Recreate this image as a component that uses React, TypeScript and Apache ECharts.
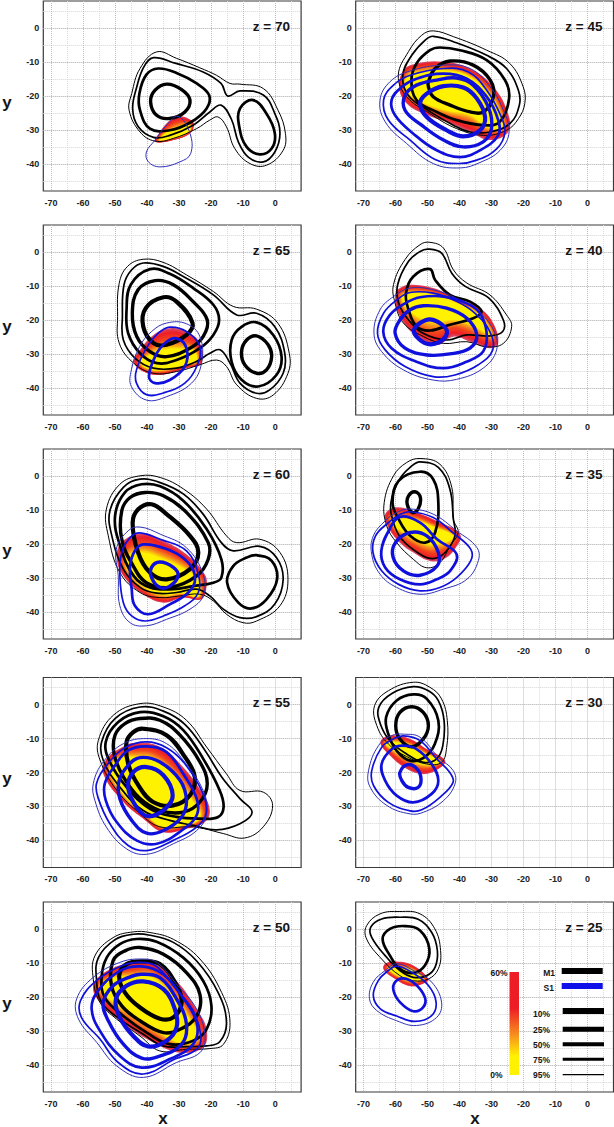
import React, { useEffect, useRef } from "react";
import * as echarts from "echarts";

type P = number[][];

const xLabels = [-70, -60, -50, -40, -30, -20, -10, 0];
const yLabels = [-40, -30, -20, -10, 0];
const xGrid = [-70, -65, -60, -55, -50, -45, -40, -35, -30, -25, -20, -15, -10, -5, 0, 5];
const yGrid = [-45, -40, -35, -30, -25, -20, -15, -10, -5, 0, 5];
const legendLevels = ["10%", "25%", "50%", "75%", "95%"];
const legendSets = ["M1", "S1"];
const scaleEnds = ["60%", "0%"];

// z = 70
const z70f: P = [[-30.8,-26],[-27.2,-26.6],[-25.4,-28.1],[-26.6,-31],[-31.8,-33],[-37.5,-33.5],[-36,-30.6],[-33.4,-27.6]];
const z70c: P = [[-30.8,-29.6],[-27.6,-28.6],[-26.4,-29],[-27,-30.5],[-31.8,-32.4],[-36,-33],[-35,-31.6],[-33,-30.4]];
const z70m95: P = [[-37,-7],[-30.8,-8.9],[-23.5,-11.7],[-18.3,-13.9],[-14.1,-16.3],[-11,-16.5],[-3.7,-17.8],[0.9,-24.2],[3.2,-31],[2.5,-36],[-2.7,-40.4],[-7.9,-39.9],[-12.6,-35.5],[-15.2,-29.1],[-17.8,-26.2],[-20.4,-27.1],[-24.5,-29.6],[-31.8,-32.5],[-37.5,-33.3],[-42.2,-30.6],[-45.6,-24.2],[-44.8,-19.3],[-42.2,-11.9]];
const z70m75: P = [[-38,-8.7],[-31,-10.4],[-22.5,-12.9],[-16.9,-16.3],[-14.8,-20],[-11,-18.5],[-3.7,-19.7],[-0.1,-25.2],[1.5,-31],[-0.1,-36.5],[-3.7,-39.4],[-8.4,-38],[-11.5,-33.5],[-13.6,-27],[-16.9,-22.7],[-20.4,-24.7],[-25.6,-28.6],[-32.9,-31.6],[-38,-32.2],[-42.8,-29],[-44.5,-23.7],[-43.2,-17.3],[-41,-11.4]];
const z70m50a: P = [[-36.5,-11.9],[-30.8,-13.2],[-24.5,-16.3],[-20.6,-19.8],[-21.4,-23.7],[-26.1,-27.6],[-32.9,-30.1],[-39.1,-29.6],[-42.2,-24.2],[-42.4,-19.3],[-40.2,-13.7]];
const z70m50b: P = [[-6.9,-21.2],[-2.7,-25.2],[-0.1,-31],[-1.1,-35.5],[-4.8,-37.2],[-8.9,-35],[-11.2,-29.1],[-11,-23.7]];
const z70m25: P = [[-33.9,-16.5],[-29.2,-18.1],[-26.6,-21.2],[-28.2,-24.7],[-32.9,-26.6],[-37,-25.7],[-38.9,-21.7],[-37.5,-18.3]];
const z70s95: P = [[-30.3,-26],[-26.6,-31],[-26.4,-37],[-29.7,-39.4],[-36,-40.9],[-39.6,-39.4],[-40.2,-36.5],[-37.5,-33],[-33.9,-28.6]];

// z = 65
const z65f: P = [[-32.9,-22.4],[-27.7,-23.4],[-23.5,-26.8],[-23,-32.7],[-27.7,-34.2],[-36,-36.2],[-41.2,-35.2],[-44.2,-32.2],[-42.2,-28.8],[-38,-24.4]];
const z65c: P = [[-33,-28.5],[-29,-28.5],[-25.5,-29],[-24.5,-32],[-28,-33.2],[-36,-34.8],[-40.5,-34],[-42,-32],[-39.5,-30.5],[-36.5,-29]];
const z65m95: P = [[-41.2,-2.1],[-35,-3],[-27.7,-6.7],[-19.3,-11.6],[-13.1,-16],[-5.8,-16.8],[0.9,-21],[4.4,-29.8],[4,-35.7],[-0.6,-42.1],[-5.8,-43.1],[-12,-39.1],[-15.2,-33.7],[-18.3,-31.8],[-23.5,-33.2],[-30.8,-35.2],[-38,-35.7],[-44.2,-32.7],[-48.7,-26.8],[-49.2,-19],[-48.7,-9.2],[-46.1,-4.2]];
const z65m75: P = [[-41.2,-3.2],[-35,-4.2],[-27.7,-7.7],[-19.3,-12.6],[-12,-18.5],[-5.8,-18],[-0.1,-22],[3,-29.8],[2.5,-35.7],[-1.7,-40.6],[-5.8,-41.6],[-11,-38.6],[-14.1,-32.7],[-17.2,-28.8],[-20.4,-29.8],[-24.5,-32.2],[-30.8,-34.2],[-38,-34.2],[-43.7,-31.3],[-47.4,-25.9],[-47.7,-19],[-47.2,-9.6],[-44.8,-5.2]];
const z65m50a: P = [[-39.1,-5],[-32.9,-6.4],[-25.6,-10.6],[-19.3,-15.5],[-17.5,-20],[-19.3,-24.4],[-23.5,-28.3],[-30.8,-31.8],[-37,-32.7],[-42.2,-29.8],[-45.9,-23.9],[-46.4,-17],[-45.1,-9.6]];
const z65m50b: P = [[-5.8,-20.7],[-0.6,-24.4],[2,-30.8],[0.4,-36.2],[-5.3,-39.6],[-10.5,-37.6],[-13.6,-32.3],[-13.6,-25.9],[-10.5,-22]];
const z65m25a: P = [[-37.5,-8.4],[-31.8,-9.6],[-25.6,-14.6],[-21.2,-20],[-22.5,-24.9],[-26.6,-28.3],[-33.9,-30.8],[-39.1,-29.3],[-43.2,-24.9],[-44.6,-18],[-42.8,-11.1]];
const z65m25b: P = [[-5.8,-24.7],[-2.2,-27.3],[-1.1,-30.8],[-2.7,-34.7],[-5.8,-35.7],[-9.5,-33.2],[-10.5,-29.3],[-8.9,-25.9]];
const z65m10: P = [[-34.9,-13.3],[-30.8,-14.6],[-25.8,-20.9],[-27.7,-24.4],[-33.9,-27.3],[-38,-26.8],[-41.2,-21.9],[-40.4,-16.5]];
const z65s95: P = [[-33.9,-20.9],[-27.7,-21.1],[-23.5,-24.9],[-23,-32.7],[-26.1,-38.6],[-33.9,-42.6],[-40.2,-43.6],[-44.9,-39.6],[-44.9,-34.7],[-42.3,-27.8],[-38.6,-23.4]];
const z65s75: P = [[-32.9,-22.1],[-27.7,-23.4],[-23.5,-27.8],[-24.5,-33.7],[-28.2,-38.6],[-34.9,-41.5],[-40.2,-42],[-43.3,-38.6],[-43.3,-34.7],[-40.2,-28.3],[-36.5,-23.9]];
const z65s50: P = [[-30.8,-25.4],[-27.7,-28.3],[-28.2,-33.7],[-32.9,-37.7],[-37.5,-38.6],[-39.4,-36.7],[-37.5,-30.8],[-34.4,-26.8]];

// z = 60
const z60f: P = [[-41.2,-16.8],[-35.9,-18.6],[-27.7,-23],[-22,-28.9],[-21.4,-32.4],[-23,-36.3],[-28.7,-35.8],[-34.9,-37.3],[-41.2,-34.8],[-47.4,-29.4],[-49.5,-23.5],[-47.4,-19]];
const z60c: P = [[-41,-22.5],[-36,-24],[-29,-27],[-24.5,-30],[-23.5,-32.5],[-24,-35.5],[-29,-34.5],[-34.9,-35],[-40.5,-33],[-45.5,-28.5],[-46.5,-24.5],[-45,-23]];
const z60m95: P = [[-42.2,0.1],[-35.9,-0.4],[-28.6,-3.8],[-21.4,-9.7],[-15.2,-17.6],[-12,-19.6],[-4.8,-18.6],[1.5,-22.5],[4,-30.4],[1.5,-38.2],[-5.8,-42.7],[-10,-43.2],[-15.2,-40.7],[-19.3,-36.8],[-23.5,-34.8],[-29.7,-35.3],[-36,-35.8],[-42.2,-34.3],[-48.5,-28.4],[-52.1,-17.6],[-52.7,-9.7],[-48.5,-2.4]];
const z60m75: P = [[-42.2,-0.9],[-35.9,-1.9],[-28.6,-5.3],[-22.5,-11.2],[-16.8,-19.6],[-13.1,-22],[-4.8,-20.7],[0.4,-24],[2.5,-30.4],[-0.1,-37.7],[-5.8,-41.4],[-11,-41.7],[-16.2,-39.2],[-20.4,-35.3],[-24.5,-33.3],[-30.8,-34.3],[-37,-34.5],[-42.2,-32.8],[-47.4,-27.4],[-51,-17.6],[-51.6,-10.2],[-47.4,-3.3]];
const z60m50a: P = [[-41.7,-2.4],[-35.9,-3],[-28.6,-7.3],[-21.4,-15.6],[-16.8,-24.5],[-16.8,-29.9],[-19.3,-31.4],[-25.6,-32.4],[-31.8,-33.3],[-39.1,-32.8],[-44.2,-29.4],[-48.4,-20.6],[-50,-11.8],[-46.9,-4.8]];
const z60m50b: P = [[-5.8,-23.3],[-1.1,-25],[0.6,-30.4],[-2.7,-36.3],[-7.4,-39],[-11.5,-37.3],[-15,-31.4],[-13.1,-26.5],[-8.9,-24]];
const z60m25: P = [[-40.6,-4.8],[-34.9,-5.8],[-27.7,-10.7],[-20.9,-19.6],[-20.9,-24.5],[-24.5,-29.4],[-32.9,-32.8],[-40.2,-31.4],[-44.3,-26.5],[-47.9,-18.6],[-47.9,-10.2],[-45.3,-6.3]];
const z60m10: P = [[-38.6,-8.3],[-33.9,-11.2],[-26.6,-17.6],[-24,-22.5],[-26.6,-27.4],[-33.9,-30.4],[-39.1,-28.4],[-42.8,-22.5],[-44.5,-13.7],[-42.7,-9.7]];
const z60s95: P = [[-42.2,-15],[-35.9,-17.1],[-27.7,-21.1],[-22.5,-28.9],[-22.5,-35.3],[-26.6,-39.2],[-33.9,-42.2],[-40.2,-44.1],[-45.3,-43.2],[-48.5,-38.2],[-49,-29.4],[-49.6,-21.5],[-45.9,-16.1]];
const z60s75: P = [[-42.2,-16.7],[-35.9,-18.6],[-27.7,-22],[-24,-28.9],[-24,-34.3],[-28.2,-38.2],[-34.9,-41.2],[-40.6,-42.7],[-44.8,-41.2],[-47.4,-37.3],[-48.5,-28.9],[-47.9,-22.5],[-45.3,-18.1]];
const z60s50: P = [[-41.2,-20.1],[-33.9,-21.5],[-27.1,-25.5],[-25,-30.4],[-27.1,-34.3],[-32.9,-37.8],[-39.6,-40.7],[-43.8,-38.2],[-44.8,-33.3],[-45.3,-26.5],[-43.8,-22]];
const z60s25: P = [[-36,-25.3],[-31.8,-26.9],[-30.3,-29.4],[-32.9,-32.4],[-36,-32.8],[-38.6,-29.9],[-38.6,-26.9]];

// z = 55
const z55f: P = [[-44.3,-11.3],[-37,-12],[-29.7,-17.4],[-22.5,-26.3],[-20.4,-31.2],[-21.9,-34.6],[-27.7,-36.6],[-34.9,-37.6],[-41.2,-33.6],[-47.4,-28.7],[-53.7,-20.4],[-52.6,-15.9],[-47.4,-12.3]];
const z55c: P = [[-44,-15.5],[-38.5,-16],[-32,-20.5],[-26,-28],[-23.5,-31.5],[-24,-34],[-28.5,-35.5],[-35,-36],[-41,-32],[-46.5,-27.5],[-51.5,-20],[-50.5,-17],[-47,-15.5]];
const z55m95: P = [[-42.2,0.3],[-34.9,-0.7],[-27.7,-4.6],[-21.4,-12.5],[-15.2,-20.4],[-11,-25.3],[-3.7,-25.8],[-0.8,-29.7],[-3.7,-36],[-9.5,-39.3],[-16.2,-38],[-22.5,-36.5],[-26.6,-36],[-36,-36],[-42.2,-32.1],[-49.5,-25.2],[-54.7,-16.3],[-55.2,-10.5],[-50.5,-3.1]];
const z55m75: P = [[-42.2,-0.7],[-34.9,-1.9],[-28.2,-5.8],[-21.9,-13.5],[-16.7,-21.3],[-11,-27.7],[-7.2,-31.7],[-11,-35.1],[-18.3,-36.9],[-25.6,-35.6],[-32.9,-34.1],[-41.2,-31.2],[-48.5,-24.3],[-53.7,-16.4],[-54.2,-11],[-50,-4.1]];
const z55m50: P = [[-42.2,-2.2],[-34.9,-3.4],[-28.7,-7.5],[-22.5,-15.9],[-17.3,-25.3],[-16.1,-30.2],[-17.8,-33.1],[-23.5,-33.6],[-30.8,-33.1],[-39.1,-30.7],[-46.4,-24.3],[-51.6,-16.9],[-52.9,-11],[-49,-5.1]];
const z55m25: P = [[-42.2,-4.1],[-36,-4.6],[-29.7,-9],[-23.5,-16.9],[-21.2,-23.3],[-23.5,-28.7],[-28.7,-31.7],[-36,-31.2],[-42.2,-27.7],[-47.4,-21.3],[-50.3,-14.5],[-50,-9],[-46.9,-5.6]];
const z55m10: P = [[-41.2,-7.1],[-33.9,-9],[-28.2,-15.4],[-25.1,-21.3],[-26.6,-26.7],[-31.8,-29.7],[-38.1,-28.7],[-42.7,-23.8],[-45.9,-17.4],[-46.4,-11],[-44.3,-8.1]];
const z55s95: P = [[-40.1,-10],[-33.9,-11.5],[-28.7,-16.4],[-22.5,-25.3],[-21.4,-32.2],[-24.5,-37.1],[-31.8,-41],[-40.1,-44.1],[-46.4,-42.5],[-52.7,-36.1],[-56.3,-28.2],[-56.8,-23.3],[-53.7,-16.9],[-47.4,-11.5]];
const z55s75: P = [[-40.1,-11],[-33.9,-12.7],[-28.2,-17.4],[-22.5,-26.3],[-21.6,-32.2],[-24.5,-36.1],[-31.8,-40],[-40.1,-43],[-45.9,-41.5],[-51.6,-35.1],[-55.2,-27.7],[-55.8,-23.3],[-52.6,-17.9],[-46.9,-12.7]];
const z55s50: P = [[-40.1,-12.3],[-33.9,-14],[-28.7,-20.4],[-24.5,-27.7],[-24.5,-32.6],[-29.2,-37.1],[-36.9,-41],[-43.3,-40],[-49.5,-34.6],[-52.9,-28.2],[-53.2,-23.3],[-50,-17.9],[-45.9,-13.5]];
const z55s25: P = [[-42.2,-15.6],[-36,-16.9],[-29.7,-22.3],[-27.7,-28.2],[-29.2,-33.1],[-34.9,-37.1],[-40.1,-37.9],[-44.8,-34.1],[-48.5,-27.7],[-48.7,-22.3],[-45.9,-17.9]];
const z55s10: P = [[-40.1,-18.4],[-34.9,-20.8],[-32,-26.7],[-34.4,-30.7],[-39.6,-32.9],[-43.3,-30.2],[-45.9,-24.3],[-44.3,-19.9]];

// z = 50
const z50f: P = [[-44.3,-9.8],[-38.1,-9.8],[-30.8,-15.2],[-24.5,-23.6],[-21.4,-29.5],[-22.5,-34.9],[-29.7,-36.4],[-38.1,-33.4],[-46.4,-28.5],[-54.7,-21.6],[-56.8,-16.7],[-52.6,-12.3]];
const z50c: P = [[-44,-14],[-39,-14],[-33,-18.5],[-27.5,-25.5],[-24.5,-30],[-25,-33],[-30,-33.5],[-37.5,-29.5],[-45,-25],[-52.5,-20],[-54.5,-17],[-51,-14.5]];
const z50m95: P = [[-44.3,-0.8],[-39.1,-1],[-31.8,-3],[-23.5,-8.8],[-16.7,-18.7],[-14.1,-27.5],[-16.2,-34],[-20.4,-35.2],[-27.7,-35.4],[-36,-35.9],[-42.2,-31.5],[-49.5,-26.5],[-54.7,-21.6],[-56.8,-14.7],[-56.3,-7.9],[-50.6,-2.5]];
const z50m75: P = [[-44.3,-1.5],[-39.1,-1.8],[-31.8,-3.9],[-24.5,-9.4],[-17.8,-18.7],[-15.2,-27.5],[-17.3,-33.2],[-21.4,-34.4],[-27.7,-34.6],[-35,-34.4],[-41.2,-31],[-48.5,-26.5],[-54.2,-21.6],[-55.8,-14.7],[-55.2,-8.4],[-50,-3.1]];
const z50m50: P = [[-43.3,-2.9],[-37,-3.7],[-28.7,-8.4],[-22.5,-15.2],[-19.9,-22.6],[-21.4,-29.5],[-25.6,-32.9],[-32.9,-33.9],[-40.1,-30.5],[-47.4,-25.6],[-53.2,-20.2],[-54.2,-14.3],[-52.6,-8.4],[-48.5,-4.4]];
const z50m25: P = [[-42.2,-5.4],[-34.9,-7.4],[-27.7,-12.8],[-23.5,-19.2],[-24.5,-25.6],[-29.7,-29.5],[-34.9,-30.5],[-42.2,-27],[-47.9,-22.6],[-51.1,-16.7],[-50.6,-9.3],[-46.9,-6.4]];
const z50m10: P = [[-41.2,-9.5],[-36,-10.3],[-31.3,-15.7],[-29.2,-21.6],[-31.8,-26],[-36,-26.4],[-42.2,-23.1],[-46.9,-18.7],[-48.7,-13.8],[-46.4,-10.3]];
const z50s95: P = [[-42.2,-8.8],[-37,-9.8],[-30.8,-16.2],[-24.5,-23.6],[-21.9,-31.5],[-23.5,-36.4],[-30.8,-39.3],[-41.2,-43.7],[-49.5,-40.3],[-55.7,-33.4],[-61.4,-26.5],[-62,-20.6],[-56.8,-14.2],[-48.5,-9.8]];
const z50s75: P = [[-42.2,-9.8],[-37,-11],[-31.3,-17.2],[-25.6,-24.1],[-23.2,-31.5],[-24.5,-35.4],[-31.3,-38.3],[-41.2,-42.7],[-49,-39.3],[-54.7,-32.4],[-60.5,-26],[-60.8,-21.1],[-55.8,-15.2],[-47.9,-10.8]];
const z50s50: P = [[-41.7,-11],[-35,-13.3],[-29.2,-19.7],[-24.5,-27.5],[-25.6,-33.9],[-32.9,-38.3],[-41.7,-40.8],[-48.5,-37.4],[-54.7,-30],[-57.3,-23.6],[-55.7,-18.7],[-48.5,-12.3]];
const z50s25: P = [[-41.7,-13.3],[-36,-14.3],[-30.8,-20.6],[-27.7,-28],[-29.2,-33.9],[-36,-37.4],[-41.7,-38],[-47.4,-33.9],[-52.1,-27],[-53.7,-21.6],[-50.6,-16.7],[-45.9,-14.3]];
const z50s10: P = [[-41.2,-15.4],[-34.9,-17.7],[-31.3,-23.6],[-30.8,-29],[-33.9,-32.9],[-39.6,-34.6],[-44.3,-31.5],[-48.5,-26],[-49.7,-20.6],[-46.4,-16.7]];

// z = 45
const z45f: P = [[-53.4,-10.4],[-45,-9.9],[-36.7,-11.9],[-29.4,-17.3],[-24.8,-25.2],[-24.8,-30.6],[-30.5,-33],[-36.7,-30.6],[-42.9,-28],[-51.2,-25.2],[-56.5,-22.2],[-58.8,-17.8],[-57.5,-12.4]];
const z45c: P = [[-52.5,-13],[-45,-12.5],[-37.5,-14],[-31,-19],[-27,-26],[-27,-29.5],[-31.5,-29],[-37,-25.5],[-43,-24.5],[-50,-22.5],[-55,-20],[-57,-17],[-56,-14]];
const z45m95: P = [[-48.2,-0.8],[-41.9,-2.5],[-31.5,-6.5],[-24.3,-10.4],[-20.1,-17.3],[-19.6,-22.2],[-21.6,-26.7],[-25.3,-30.1],[-32.5,-31.6],[-40.9,-29.6],[-49.2,-25.2],[-56.5,-20.2],[-59.1,-13.9],[-55.9,-6.9],[-51.8,-2.1]];
const z45m75: P = [[-48.2,-2.4],[-41.9,-4],[-31.5,-8],[-25.3,-11.9],[-21.6,-18.3],[-21.3,-22.7],[-24.2,-28.1],[-30.5,-30.6],[-36.7,-30.6],[-41.9,-28.6],[-49.2,-24.6],[-56,-19.8],[-57.7,-13.9],[-54.9,-8],[-50.7,-3.5]];
const z45m50: P = [[-46.1,-5.7],[-39.8,-6.5],[-31.5,-9.4],[-25.8,-15.3],[-24.5,-20.7],[-27.4,-27.6],[-32.5,-28.6],[-40.9,-27.1],[-47.1,-24.7],[-53.4,-21.2],[-55,-15.3],[-53.4,-10.4],[-49.2,-6.5]];
const z45m25: P = [[-49.7,-15.8],[-47.6,-11.9],[-42.9,-9.7],[-35.7,-10.9],[-30.4,-15.3],[-29.4,-20.2],[-32.5,-24.7],[-36.7,-24.7],[-42.9,-22.7],[-48.2,-20.2],[-49.7,-17.3]];
const z45s95: P = [[-55.4,-12.6],[-45,-10.9],[-36.7,-11.9],[-30.4,-17.3],[-26.3,-24.2],[-24.5,-30.6],[-27.3,-36],[-33.6,-39.6],[-39.8,-41.2],[-48.2,-39.9],[-56.5,-34],[-63.2,-27.6],[-64.8,-21.2],[-61.7,-15.8]];
const z45s75: P = [[-55.4,-13.9],[-45,-11.9],[-37.2,-12.9],[-31.5,-18.3],[-27.4,-25.2],[-25.8,-30.6],[-28.4,-35.6],[-34.6,-38.9],[-40.3,-39.9],[-47.6,-38.7],[-55.4,-33],[-62.2,-27.1],[-63.7,-21.2],[-60.6,-16.8]];
const z45s50: P = [[-53.4,-14.9],[-45,-13.4],[-37.7,-14.9],[-31.5,-20.2],[-27.9,-27.1],[-27.9,-31.6],[-33.6,-36],[-39.8,-38],[-47.1,-36],[-54.4,-31.1],[-60.1,-25.7],[-61.2,-21.2],[-58,-17.3]];
const z45s25: P = [[-47.1,-15.3],[-40.9,-14.7],[-35.7,-16.8],[-31,-23.2],[-30,-29.6],[-32.6,-33.5],[-38.8,-35],[-45,-33],[-51.8,-28.6],[-57,-24.2],[-57,-19.8],[-53.4,-16.8]];
const z45s10: P = [[-45,-17.1],[-38.8,-17.5],[-34.6,-20.7],[-32,-26.2],[-33.6,-30.1],[-38.8,-31.9],[-44,-30.1],[-50.2,-26.2],[-52.3,-22.2],[-50.2,-19.3]];

// z = 40
const z40f: P = [[-55.4,-9.6],[-48.2,-10.6],[-40.9,-13.6],[-33.6,-16.5],[-29.4,-21],[-27.9,-26.9],[-30.5,-28.3],[-36.7,-26.4],[-41.9,-24.9],[-47.1,-27.4],[-53.4,-24.9],[-58.6,-18.9],[-60.1,-12.6],[-58.6,-10.6]];
const z40c: P = [[-55,-12],[-48,-12.5],[-41,-15],[-34.5,-18],[-31,-22],[-30,-25],[-31.5,-24],[-37,-21],[-42,-20],[-47,-20.5],[-52,-19.5],[-56.5,-16.5],[-58,-13.5],[-57,-12.3]];
const z40m95: P = [[-49.2,2.9],[-45,1.2],[-41.9,-5.2],[-37.7,-9.1],[-30.5,-12.6],[-25.3,-18.5],[-23.7,-21.9],[-26.3,-26.9],[-31.5,-27.9],[-37.7,-26.4],[-45,-26.9],[-51.2,-24.9],[-57.5,-20.9],[-60.1,-15],[-60.6,-9.6],[-57,-2.2],[-52.3,2.2]];
const z40m75: P = [[-49.7,0.9],[-45.6,-0.3],[-42.4,-6.2],[-38.2,-10.1],[-30.9,-13.5],[-26.3,-20],[-26.5,-23.4],[-30.4,-24.7],[-37.7,-24.4],[-43.9,-25.9],[-51.2,-24],[-55.9,-20],[-59,-15],[-59.3,-9.6],[-55.9,-2.7],[-52.3,0.2]];
const z40m50: P = [[-49.2,-5],[-47.6,-8.2],[-43,-12.6],[-36.7,-14.6],[-33.1,-17.5],[-35.7,-19.5],[-43,-21.4],[-49.2,-23.1],[-53.4,-21.9],[-55.9,-17],[-56.7,-12.1],[-54.4,-7.2]];
const z40s95: P = [[-55.4,-10.6],[-48.2,-11.1],[-40.9,-13.6],[-34.6,-17],[-29.4,-22.9],[-28.4,-28.8],[-32.6,-34.2],[-40.9,-37.5],[-48.2,-37.7],[-57.5,-34.7],[-64.3,-29.3],[-66.7,-23.9],[-64.8,-17],[-60.6,-13.1]];
const z40s75: P = [[-55.4,-11.9],[-48.2,-12.1],[-40.9,-14.5],[-35.2,-18],[-30.5,-23.4],[-29.6,-28.8],[-34.1,-33.2],[-41.4,-36.2],[-48.2,-36.7],[-57,-33.7],[-63.2,-28.8],[-65.6,-23.9],[-63.7,-18],[-59.6,-14.1]];
const z40s50: P = [[-52.3,-13.3],[-45,-13.1],[-37.7,-15.1],[-33.6,-18],[-31.5,-23.9],[-32.6,-29.3],[-37.8,-32.3],[-45,-34.2],[-53.4,-32.3],[-61.2,-28.3],[-63.8,-23.4],[-61.7,-18.5],[-57,-15.1]];
const z40s25: P = [[-51.3,-15.8],[-44,-16.5],[-37.7,-19.5],[-34.6,-24.4],[-36.7,-28.3],[-43,-30],[-50.2,-30.3],[-57,-28.3],[-60.1,-23.9],[-58.6,-20],[-55.4,-17]];
const z40s10: P = [[-49.2,-19.8],[-45.4,-21.4],[-43.9,-23.9],[-46.5,-26.6],[-50.2,-27],[-53.4,-24.9],[-54.2,-22.9],[-52.3,-20.9]];

// z = 35
const z35f: P = [[-59.6,-9.2],[-53.4,-10.7],[-47.1,-13.2],[-39.8,-17.1],[-41.4,-21.5],[-45,-24.5],[-49.2,-25],[-54.4,-22.5],[-58.6,-19.6],[-62.2,-15.1],[-63.2,-11.2]];
const z35c: P = [[-59,-12.5],[-53.5,-13],[-48,-15],[-42,-17.5],[-43,-19],[-47,-20],[-50,-20],[-54,-18.5],[-57.5,-16.5],[-60.5,-14.5],[-61,-12.5]];
const z35m95: P = [[-52.3,5.2],[-46.1,3.5],[-42.4,-3.3],[-41.9,-12.7],[-40.4,-16.6],[-43,-20.6],[-46.1,-25.5],[-50.2,-27],[-54.4,-24.5],[-59.6,-19.6],[-62.7,-14.7],[-63.5,-7.8],[-60.6,0.1],[-56.5,4]];
const z35m75: P = [[-52.3,4.2],[-46.6,2.6],[-43,-3.8],[-41.9,-12.7],[-41.4,-17.6],[-44.5,-22.5],[-48.2,-24.3],[-52.3,-23],[-58,-18.6],[-60.6,-13.7],[-61.4,-7.8],[-58.7,-0.9],[-54.9,3]];
const z35m50: P = [[-52.3,1.3],[-48.2,-0.9],[-46.6,-7.8],[-47.6,-16.6],[-50.7,-19.6],[-55.4,-17.6],[-59,-12.7],[-60.9,-7.8],[-59,-1.4]];
const z35m25: P = [[-53.9,-4.6],[-52.2,-6.3],[-52.9,-9.7],[-54.7,-10.7],[-56.3,-8.3],[-55.9,-5.8]];
const z35s95: P = [[-55.4,-9.7],[-48.2,-11.2],[-40.9,-16.1],[-34.6,-21],[-34.1,-24.9],[-37.7,-30.4],[-45,-33.3],[-52.3,-34.8],[-59.6,-32.8],[-64.8,-28.9],[-67.4,-23],[-66.9,-17.6],[-63.2,-13.2],[-59.6,-10.7]];
const z35s75: P = [[-55.4,-10.5],[-48.2,-12.2],[-41.9,-16.8],[-36.5,-21.5],[-36.5,-25],[-40.9,-29.9],[-46.1,-32.8],[-52.3,-33.8],[-59,-31.9],[-64.3,-27.9],[-67,-22.5],[-66.2,-17.6],[-62.2,-13.7],[-59,-11.5]];
const z35s50: P = [[-58.6,-12],[-52.3,-13.7],[-47,-18.6],[-40.9,-23],[-42.9,-27.9],[-47.1,-30.4],[-52.3,-31.9],[-58.6,-30.4],[-63.2,-26.9],[-64.4,-22],[-62.1,-16.1]];
const z35s25: P = [[-55.4,-16.6],[-50.2,-17.6],[-46.6,-22.5],[-47,-26.5],[-52.3,-29.2],[-57.4,-28],[-60.7,-24],[-60,-19.6]];

// z = 30
const z30f: P = [[-61.7,-9.1],[-55.4,-10.1],[-50.2,-13.1],[-44.5,-16.5],[-46.6,-19],[-51.2,-20.5],[-56.4,-19],[-61.7,-15],[-64.7,-11.1]];
const z30c: P = [[-61,-11],[-56,-11.8],[-51.5,-14],[-46,-16.8],[-48,-17.6],[-52,-17.5],[-56,-16],[-60.5,-13.5],[-63,-11.5]];
const z30m95: P = [[-54.4,6.6],[-49.2,5.1],[-45.6,1.7],[-43.8,-4.7],[-44,-12.6],[-45.6,-17],[-50.2,-17.5],[-56.5,-15.3],[-62.2,-11.6],[-65.8,-6.2],[-66.5,-0.3],[-62.2,4.1]];
const z30m75: P = [[-54.4,5.3],[-49.7,4.1],[-46.6,1.2],[-44.8,-4.7],[-45.2,-12.1],[-47.1,-16],[-51.2,-17],[-56.4,-14.6],[-61.6,-10.8],[-64.7,-5.7],[-65.2,-0.8],[-61.1,3.3]];
const z30m50: P = [[-54.4,3],[-50.2,1.7],[-46.6,-4.7],[-47.7,-11.6],[-51.2,-15.7],[-55.4,-16.5],[-59.6,-13.6],[-62.2,-8.7],[-62.9,-3.7],[-59.6,1.2]];
const z30m25: P = [[-54.9,-0.6],[-51.3,-2.3],[-49.7,-6.2],[-51.3,-10.1],[-54.9,-12.4],[-58.6,-10.1],[-59.9,-6.2],[-58.6,-2.3]];
const z30s95: P = [[-57.5,-8.7],[-52.3,-9.6],[-46.6,-15.5],[-41.9,-19.5],[-41.4,-23.4],[-45,-28.3],[-51.2,-31.7],[-55.4,-32.2],[-62.7,-29.7],[-67.9,-24.3],[-68.4,-19.5],[-65.3,-12.1],[-61.1,-9.1]];
const z30s75: P = [[-57.5,-9.2],[-52.3,-10.6],[-47.1,-16],[-43,-20],[-42,-22.9],[-46.1,-27.3],[-51.8,-31],[-55.4,-31.3],[-62.2,-28.8],[-66.8,-23.9],[-67.4,-19.5],[-64.3,-12.6],[-60.6,-10.1]];
const z30s50: P = [[-57.8,-12.1],[-53.4,-13.1],[-48.7,-17.5],[-46.6,-22.4],[-48.7,-26.3],[-54.4,-28.8],[-59.6,-26.8],[-63.2,-22.4],[-64.3,-17.5],[-61.1,-13.1]];
const z30s25: P = [[-56.2,-17.7],[-53.2,-19],[-52,-21.9],[-52.9,-24.4],[-56,-24.4],[-58,-22.4],[-58.6,-20]];

// z = 25
const z25f: P = [[-59.6,-9.5],[-54.4,-10.7],[-49.7,-14.7],[-51.3,-16.1],[-55.4,-16.8],[-60.1,-14.7],[-63.7,-11.9],[-63.2,-10.2]];
const z25c: P = [[-59.5,-11.5],[-55,-12],[-51.5,-14.5],[-52.5,-15],[-55.5,-15.2],[-59.5,-13.6],[-62,-12],[-62,-11.5]];
const z25m95: P = [[-58.6,5.2],[-52.3,4.5],[-47.7,0.1],[-45.9,-6.3],[-46.6,-11.7],[-49.7,-14.7],[-54.4,-15.2],[-58.6,-13.7],[-64.3,-8.8],[-69,-2.9],[-69,1],[-64.8,4.5]];
const z25m75: P = [[-58.6,3.5],[-52.9,2.9],[-48.7,-0.9],[-46.9,-6.3],[-47.6,-11.2],[-50.2,-13.7],[-54.4,-14.2],[-58.6,-12.2],[-63.2,-7.8],[-67.4,-2.4],[-67.7,0.6],[-64.3,3]];
const z25m50: P = [[-57,0.9],[-52.3,-0.4],[-49.4,-5.8],[-50.8,-10.7],[-54.4,-12.9],[-58.6,-11.7],[-61.7,-7.8],[-64,-2.9],[-61.7,0.1]];
const z25s95: P = [[-59.6,-10.2],[-54.4,-12.2],[-48.7,-15.6],[-45.6,-21.5],[-47.1,-26],[-53.4,-28.4],[-59.6,-27],[-65.8,-24],[-68.1,-20.5],[-66.9,-15.6],[-63.2,-12.2]];
const z25s75: P = [[-59.6,-10.9],[-54.9,-12.7],[-49.7,-16.6],[-47.3,-21.5],[-48.7,-25.5],[-53.9,-27.2],[-59.6,-25.6],[-64.8,-23.4],[-66.9,-19.6],[-65.3,-15.1],[-62.2,-12.2]];
const z25s50: P = [[-57.5,-14.5],[-53.9,-16.1],[-50.8,-20.1],[-51.3,-23],[-54.4,-24.2],[-58.6,-21.5],[-60.6,-18.1],[-60.1,-15.6]];

const RED = "#ee1c25", ORG = "#f7941d", YEL = "#fff200";
type Panel = { z: number; col: number; row: number; fill: P; core: P; m: [P, number][]; s: [P, number][] };

const panels: Panel[] = [
  { z: 70, col: 0, row: 0, fill: z70f, core: z70c, m: [[z70m95, 95], [z70m75, 75], [z70m50a, 50], [z70m50b, 50], [z70m25, 25]], s: [[z70s95, 95]] },
  { z: 65, col: 0, row: 1, fill: z65f, core: z65c, m: [[z65m95, 95], [z65m75, 75], [z65m50a, 50], [z65m50b, 50], [z65m25a, 25], [z65m25b, 25], [z65m10, 10]], s: [[z65s95, 95], [z65s75, 75], [z65s50, 50]] },
  { z: 60, col: 0, row: 2, fill: z60f, core: z60c, m: [[z60m95, 95], [z60m75, 75], [z60m50a, 50], [z60m50b, 50], [z60m25, 25], [z60m10, 10]], s: [[z60s95, 95], [z60s75, 75], [z60s50, 50], [z60s25, 25]] },
  { z: 55, col: 0, row: 3, fill: z55f, core: z55c, m: [[z55m95, 95], [z55m75, 75], [z55m50, 50], [z55m25, 25], [z55m10, 10]], s: [[z55s95, 95], [z55s75, 75], [z55s50, 50], [z55s25, 25], [z55s10, 10]] },
  { z: 50, col: 0, row: 4, fill: z50f, core: z50c, m: [[z50m95, 95], [z50m75, 75], [z50m50, 50], [z50m25, 25], [z50m10, 10]], s: [[z50s95, 95], [z50s75, 75], [z50s50, 50], [z50s25, 25], [z50s10, 10]] },
  { z: 45, col: 1, row: 0, fill: z45f, core: z45c, m: [[z45m95, 95], [z45m75, 75], [z45m50, 50], [z45m25, 25]], s: [[z45s95, 95], [z45s75, 75], [z45s50, 50], [z45s25, 25], [z45s10, 10]] },
  { z: 40, col: 1, row: 1, fill: z40f, core: z40c, m: [[z40m95, 95], [z40m75, 75], [z40m50, 50]], s: [[z40s95, 95], [z40s75, 75], [z40s50, 50], [z40s25, 25], [z40s10, 10]] },
  { z: 35, col: 1, row: 2, fill: z35f, core: z35c, m: [[z35m95, 95], [z35m75, 75], [z35m50, 50], [z35m25, 25]], s: [[z35s95, 95], [z35s75, 75], [z35s50, 50], [z35s25, 25]] },
  { z: 30, col: 1, row: 3, fill: z30f, core: z30c, m: [[z30m95, 95], [z30m75, 75], [z30m50, 50], [z30m25, 25]], s: [[z30s95, 95], [z30s75, 75], [z30s50, 50], [z30s25, 25]] },
  { z: 25, col: 1, row: 4, fill: z25f, core: z25c, m: [[z25m95, 95], [z25m75, 75], [z25m50, 50]], s: [[z25s95, 95], [z25s75, 75], [z25s50, 50]] },
];

const WIDTH: Record<number, number> = { 95: 1, 75: 1.7, 50: 2.7, 25: 3.4, 10: 4.2 };
const BLUE = "#1010dc";
const FONT = "'Liberation Sans', Arial, sans-serif";
const colLeft = [43.3, 355.7];
const rowTop = [1, 225, 449, 677.5, 902];
const PW = 257.8;
const PH = 190;
const SMOOTH = 0.4;

// shading ramp running from the rim of the filled region to its yellow core
const ramp: [number, number[]][] = [
  [0, [216, 70, 100]], [0.18, [238, 28, 37]], [0.5, [242, 70, 30]], [0.76, [247, 148, 29]], [1, [255, 242, 0]],
];
const BANDS = 12;
function rampColor(t: number) {
  for (let i = 1; i < ramp.length; i++) {
    if (t <= ramp[i][0]) {
      const [t0, c0] = ramp[i - 1], [t1, c1] = ramp[i];
      const u = (t - t0) / (t1 - t0);
      return `rgb(${c0.map((c, k) => Math.round(c + (c1[k] - c) * u)).join(",")})`;
    }
  }
  return `rgb(${ramp[ramp.length - 1][1].join(",")})`;
}

function loop(i: number, pts: P, style: any) {
  return {
    type: "custom", coordinateSystem: "cartesian2d", xAxisIndex: i, yAxisIndex: i, clip: true, silent: true,
    encode: { x: 0, y: 1 }, data: pts,
    renderItem: (params: any, api: any) => {
      if (params.dataIndex !== 0) return null;
      return { type: "polygon", shape: { points: pts.map((p) => api.coord(p)), smooth: SMOOTH }, style };
    },
  };
}

function shade(i: number, outer: P, core: P) {
  return {
    type: "custom", coordinateSystem: "cartesian2d", xAxisIndex: i, yAxisIndex: i, clip: true, silent: true,
    encode: { x: 0, y: 1 }, data: outer,
    renderItem: (params: any, api: any) => {
      if (params.dataIndex !== 0) return null;
      const a = outer.map((p) => api.coord(p));
      const b = core.map((p) => api.coord(p));
      const children: any[] = [];
      for (let k = 0; k <= BANDS; k++) {
        const t = k / BANDS;
        children.push({
          type: "polygon",
          shape: { points: a.map((p: number[], n: number) => [p[0] + (b[n][0] - p[0]) * t, p[1] + (b[n][1] - p[1]) * t]), smooth: SMOOTH },
          style: { fill: rampColor(t), stroke: "none" },
        });
      }
      return { type: "group", children };
    },
  };
}

function buildOption() {
  const grid: any[] = [], xAxis: any[] = [], yAxis: any[] = [], series: any[] = [], graphic: any[] = [];
  const txt = (x: number, y: number, text: string, size: number, align = "center") => ({
    type: "text", x, y, z: 100, silent: true,
    style: { text, fill: "#151515", font: `bold ${size}px ${FONT}`, textAlign: align, textVerticalAlign: "middle" },
  });
  const bar = (x: number, y: number, width: number, height: number, fill: any) => ({
    type: "rect", z: 100, silent: true, shape: { x, y, width, height }, style: { fill },
  });
  panels.forEach((p, i) => {
    const left = colLeft[p.col], top = rowTop[p.row];
    grid.push({ left, top, width: PW, height: PH, show: true, backgroundColor: "#fff", borderColor: "#3a3a3a", borderWidth: 1.2 });
    xAxis.push({
      type: "value", gridIndex: i, min: -72.4, max: 8.1,
      axisLine: { show: false }, axisTick: { show: false, customValues: xGrid },
      axisLabel: { customValues: xLabels, margin: 7, fontSize: 9, fontWeight: "bold", color: "#222", fontFamily: FONT, hideOverlap: false },
      splitLine: { show: true, lineStyle: { type: "dotted", color: ["#bdbdbd", "#dadada"], width: 1 } },
    });
    yAxis.push({
      type: "value", gridIndex: i, min: -48, max: 8,
      axisLine: { show: false }, axisTick: { show: false, customValues: yGrid },
      axisLabel: { customValues: yLabels, margin: 4, fontSize: 9, fontWeight: "bold", color: "#222", fontFamily: FONT, hideOverlap: false },
      splitLine: { show: true, lineStyle: { type: "dotted", color: ["#d4d4d4", "#aaaaaa"], width: 1 } },
    });
    series.push(shade(i, p.fill, p.core));
    p.m.forEach(([pts, lv]) => series.push(loop(i, pts, { fill: "none", stroke: "#000", lineWidth: WIDTH[lv], lineJoin: "round" })));
    p.s.forEach(([pts, lv]) => series.push(loop(i, pts, { fill: "none", stroke: lv === 95 ? "#3030b8" : BLUE, lineWidth: WIDTH[lv], lineJoin: "round" })));
    graphic.push(txt(left + 246.7, top + 25, `z = ${p.z}`, 13.5, "right"));
    if (p.col === 0) graphic.push(txt(7, top + 101, "y", 17));
  });
  graphic.push(txt(163, 1118, "x", 17), txt(475, 1118, "x", 17));

  // colour scale and line-width key inside the z = 25 panel
  graphic.push(bar(509.5, 972, 9.5, 103, new echarts.graphic.LinearGradient(0, 0, 0, 1, [
    { offset: 0, color: RED }, { offset: 0.35, color: RED }, { offset: 0.62, color: ORG }, { offset: 0.82, color: YEL }, { offset: 1, color: YEL },
  ])));
  graphic.push(txt(507.5, 972.5, scaleEnds[0], 8.5, "right"), txt(502.5, 1075, scaleEnds[1], 8.5, "right"));
  graphic.push(txt(555, 972.5, legendSets[0], 8.5, "right"), txt(554, 987.5, legendSets[1], 8.5, "right"));
  graphic.push(bar(561.7, 968, 41, 6, "#000"), bar(561.7, 983, 41, 6, "#1010e8"));
  const keyY = [1011, 1029.3, 1044.3, 1059.3, 1074.7];
  const keyH = [6, 5, 4, 3, 1.3];
  legendLevels.forEach((l, k) => {
    graphic.push(txt(550, keyY[k] + (k === 0 ? 2.5 : 0.7), l, 8.5, "right"));
    graphic.push(bar(562.7, keyY[k] - keyH[k] / 2, 41.3, keyH[k], "#000"));
  });
  return { animation: false, backgroundColor: "#fff", grid, xAxis, yAxis, series, graphic };
}

export default function App() {
  const ref = useRef<HTMLDivElement>(null);
  useEffect(() => {
    const chart = echarts.init(ref.current!, undefined, { renderer: "svg" });
    chart.setOption(buildOption() as any);
    return () => chart.dispose();
  }, []);
  return <div ref={ref} style={{ position: "absolute", left: 0, top: 0, width: 614, height: 1127 }} />;
}
